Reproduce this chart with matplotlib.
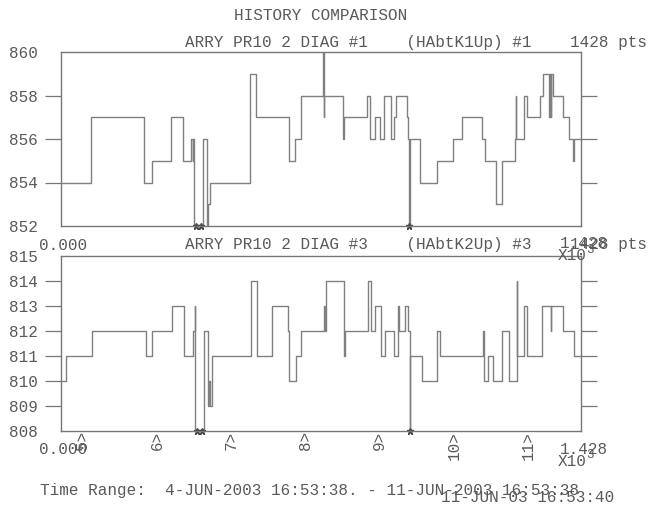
import matplotlib
matplotlib.use('Agg')
import matplotlib.pyplot as plt
import matplotlib.transforms as mtransforms

# step series: (start index, value) of each level
# values below the axis floor are out-of-range samples
top_starts = [0, 82, 227, 249, 302, 334, 357, 362, 364, 366, 389, 401, 405, 409,
              520, 536, 628, 643, 661, 721, 722, 723, 774, 775, 777, 842, 850,
              863, 877, 889, 907, 914, 921, 952, 954, 957, 958, 987, 1034, 1078,
              1101, 1156, 1165, 1196, 1211, 1248, 1250, 1251, 1273, 1280, 1317,
              1324, 1342, 1344, 1346, 1347, 1353, 1381, 1397, 1408, 1410]
top_vals = [854, 857, 854, 855, 857, 855, 856, 855, 856, 850, 856, 850, 853, 854,
            859, 857, 855, 856, 858, 860, 857, 858, 857, 856, 857, 858, 856,
            857, 856, 858, 856, 857, 858, 857, 856, 850, 856, 854, 855, 856,
            857, 856, 855, 853, 855, 856, 858, 856, 858, 857, 858,
            859, 857, 859, 857, 859, 858, 857, 856, 855, 856]
top_clip_idx = [371, 384, 957]

bot_starts = [0, 13, 86, 233, 251, 304, 339, 361, 364, 367, 368, 392, 403, 407,
              410, 414, 522, 538, 579, 625, 627, 645, 660, 723, 726, 729, 778,
              781, 845, 851, 863, 879, 891, 914, 925, 930, 945, 955, 958, 959,
              960, 991, 1034, 1042, 1161, 1163, 1175, 1187, 1211, 1232, 1253,
              1254, 1273, 1282, 1321, 1346, 1348, 1381, 1410]
bot_vals = [810, 811, 812, 811, 812, 813, 811, 811, 812, 813, 806, 812, 809, 810,
            809, 811, 814, 811, 813, 812, 810, 811, 812, 813, 812, 814, 811,
            812, 814, 812, 813, 811, 812, 811, 813, 812, 813, 812, 811, 806,
            811, 810, 812, 811, 812, 810, 811, 810, 812, 810, 814,
            811, 813, 811, 813, 812, 813, 812, 811]
bot_clip_idx = [373, 388, 959]

n_pts = 1428
day_labels = ['5', '6', '7', '8', '9', '10', '11']
first_midnight = 60.4  # 16:53:38 -> 00:00, in samples
pts_per_day = n_pts / 7

W, H = 658, 508
grey = '#5a5a5a'
line_c = '#808080'
fs = 11.5

plt.rcParams['font.family'] = ['Liberation Mono', 'DejaVu Sans Mono']

fig = plt.figure(figsize=(W / 100, H / 100), dpi=100)
fig.patch.set_facecolor('white')


def fpos(x, y):
    return x / W, 1 - y / H


def panel(rect, starts, vals, clip_idx, ylo, yhi, yticks):
    ax = fig.add_axes(rect)
    xs = starts + [n_pts]
    ys = vals + [vals[-1]]
    ax.step(xs, ys, where='post', color=line_c, lw=1.0)
    ax.plot(clip_idx, [ylo] * len(clip_idx), ls='none', marker='*',
            ms=5, color='#444444', clip_on=False)
    ax.set_xlim(0, n_pts)
    ax.set_ylim(ylo, yhi)
    ax.set_xticks([])
    ax.set_yticks(yticks)
    ax.tick_params(axis='y', direction='out', length=11.5, width=0.9,
                   left=True, right=True, color='#777777', labelcolor=grey,
                   labelsize=fs, pad=5)
    ticks = ax.yaxis.get_major_ticks()
    for t in (ticks[0], ticks[-1]):
        t.tick1line.set_visible(False)
        t.tick2line.set_visible(False)
    for s in ax.spines.values():
        s.set_color('#777777')
        s.set_linewidth(1.0)
    return ax


ax1 = panel([61 / W, 1 - 226 / H, 519.5 / W, 174 / H],
            top_starts, top_vals, top_clip_idx, 852, 860,
            [852, 854, 856, 858, 860])
ax2 = panel([61 / W, 1 - 431 / H, 519.5 / W, 175 / H],
            bot_starts, bot_vals, bot_clip_idx, 808, 815,
            list(range(808, 816)))

# day markers along the bottom panel
trans = mtransforms.blended_transform_factory(ax2.transData, ax2.transAxes)
for k, lab in enumerate(day_labels):
    ax2.text(first_midnight + k * pts_per_day, 0.0, lab + '>', transform=trans,
             rotation=90, ha='center', va='top', fontsize=fs, color=grey)


def ftext(x, y, s, **kw):
    kw.setdefault('fontsize', fs)
    kw.setdefault('color', grey)
    kw.setdefault('va', 'center')
    fig.text(*fpos(x, y), s, **kw)


ftext(321, 15, 'HISTORY COMPARISON', ha='center')
ftext(185, 43, 'ARRY PR10 2 DIAG #1    (HAbtK1Up) #1    1428 pts')
ftext(185, 244, 'ARRY PR10 2 DIAG #3    (HAbtK2Up) #3    1428 pts')

# x-axis end labels for each panel
for y0 in (245, 450):
    ftext(39, y0, '0.000')
    ftext(560, y0 - 1, '1.428')
    ftext(558, y0 + 11, 'X10')
    ftext(586, y0 + 5, '3', fontsize=9)

ftext(40, 491, 'Time Range:  4-JUN-2003 16:53:38. - 11-JUN-2003 16:53:38')
ftext(441, 498, '11-JUN-03 16:53:40')

fig.savefig('out.png', dpi=100, facecolor='white')
